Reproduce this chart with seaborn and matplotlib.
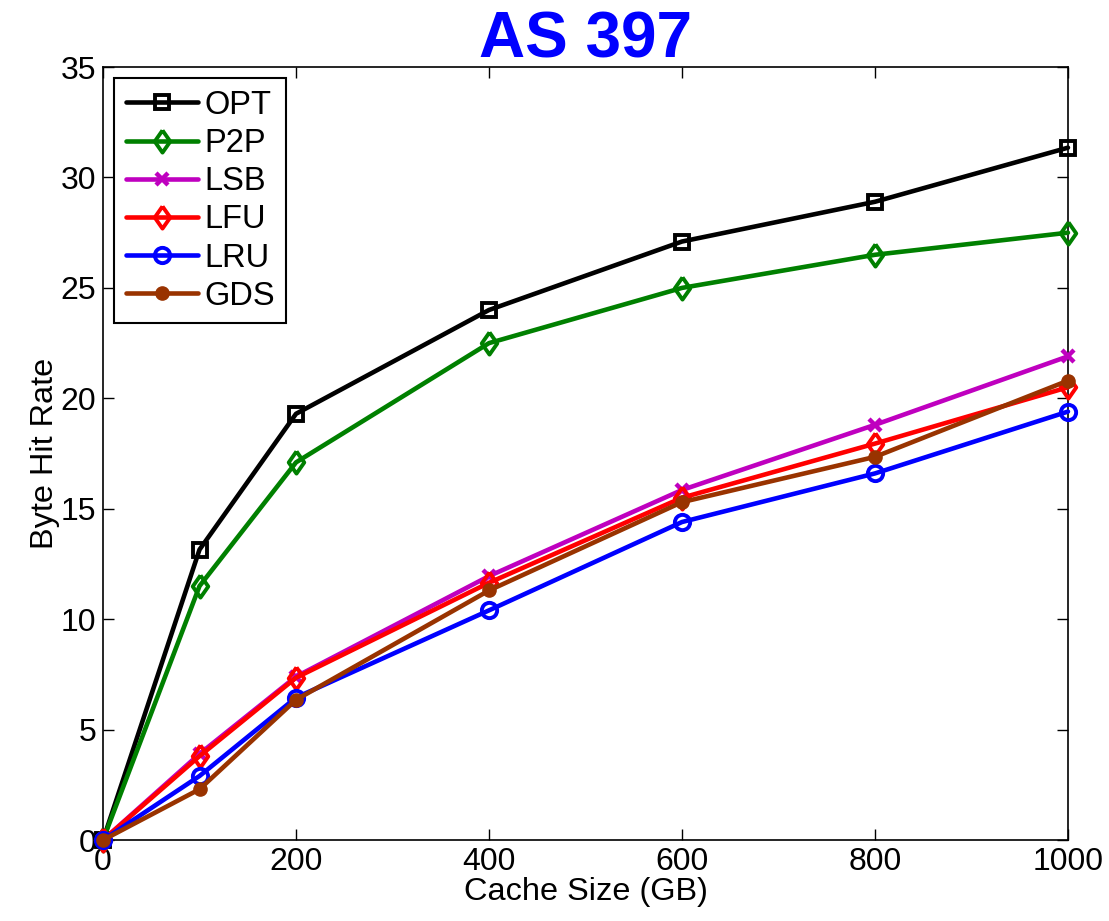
import matplotlib
matplotlib.use("Agg")
import matplotlib.pyplot as plt
import seaborn as sns
import pandas as pd

cache_sizes = [0, 100, 200, 400, 600, 800, 1000]
opt = [0, 13.15, 19.3, 24.0, 27.1, 28.9, 31.35]
p2p = [0, 11.5, 17.1, 22.5, 25.0, 26.5, 27.5]
lsb = [0, 3.9, 7.4, 11.95, 15.85, 18.8, 21.9]
lfu = [0, 3.8, 7.35, 11.65, 15.5, 17.95, 20.5]
lru = [0, 2.9, 6.45, 10.4, 14.4, 16.6, 19.4]
gds = [0, 2.3, 6.35, 11.3, 15.3, 17.35, 20.8]

series_names = ["OPT", "P2P", "LSB", "LFU", "LRU", "GDS"]
series_values = [opt, p2p, lsb, lfu, lru, gds]

sns.set_theme(style="white", rc={
    "text.color": "black", "axes.labelcolor": "black",
    "xtick.color": "black", "ytick.color": "black",
    "axes.edgecolor": "black",
})
plt.rcParams['font.family'] = ['Liberation Sans', 'DejaVu Sans']

diamond = [(0, 1), (0.7, 0), (0, -1), (-0.7, 0), (0, 1)]
styles = {
    "OPT": dict(color="black", marker="s", mfc="none", ms=10, mew=2.8),
    "P2P": dict(color="#008000", marker=diamond, mfc="none", ms=16, mew=2.8),
    "LSB": dict(color="#BF00BF", marker="x", mfc="none", ms=8, mew=3.2),
    "LFU": dict(color="#FF0000", marker=diamond, mfc="none", ms=16, mew=2.8),
    "LRU": dict(color="#0000FF", marker="o", mfc="none", ms=11, mew=2.8),
    "GDS": dict(color="#993300", marker="o", mfc="#993300", ms=9.5, mew=1),
}

fig = plt.figure(figsize=(11.09, 9.21), dpi=100)
ax = fig.add_axes([0.0929, 0.0879, 0.8701, 0.8393])

for name, vals in zip(series_names, series_values):
    df = pd.DataFrame({"Cache Size (GB)": cache_sizes, "Byte Hit Rate": vals})
    st = dict(styles[name])
    st["mec"] = st["color"]
    sns.lineplot(data=df, x="Cache Size (GB)", y="Byte Hit Rate", ax=ax,
                 label=name, linewidth=3.3, clip_on=False, zorder=3, **st)

ax.set_xlim(0, 1000)
ax.set_ylim(0, 35)
ax.set_xticks([0, 200, 400, 600, 800, 1000])
ax.set_yticks(range(0, 36, 5))
ax.tick_params(direction="in", length=8, width=1, labelsize=23,
               top=True, right=True, left=True, bottom=True, pad=5)
for sp in ax.spines.values():
    sp.set_visible(True)
    sp.set_color("black")
    sp.set_linewidth(1.2)
ax.set_xlabel("Cache Size (GB)", fontsize=23.4, labelpad=0)
ax.set_ylabel("Byte Hit Rate", fontsize=23.4, labelpad=0)
ax.set_title("AS 397", fontsize=46, fontweight="bold", color="#0000FF", pad=7)

leg = ax.legend(loc="upper left", fontsize=23.5, frameon=True, fancybox=False,
                edgecolor="black", handlelength=2.2, borderpad=0.35,
                labelspacing=0.22, handletextpad=0.2, borderaxespad=0.35,
                framealpha=1)
leg.get_frame().set_linewidth(1.5)
leg.set_zorder(5)

fig.savefig("out.png", dpi=100)
